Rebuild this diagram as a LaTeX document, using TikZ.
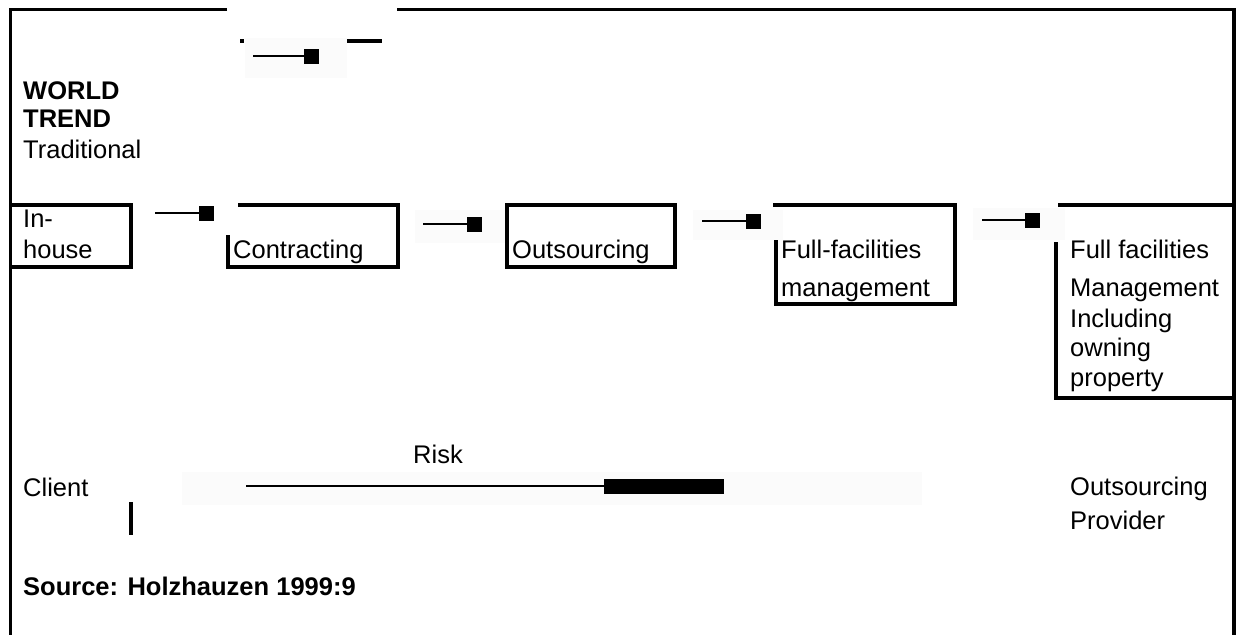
\documentclass[tikz,border=0pt]{standalone}
\usepackage{fontspec}
\setmainfont{Liberation Sans}
\usetikzlibrary{arrows.meta}
\begin{document}
\begin{tikzpicture}[x=1pt,y=-1pt]
\tikzset{
  frameline/.style={line width=3.8pt},
  boxline/.style={line width=3.8pt},
  conn/.style={line width=1.8pt, -{Square[length=15pt,width=15pt]}},
  riskconn/.style={line width=1.8pt, -{Square[length=120pt,width=15pt]}},
  lbl/.style={anchor=base west, inner sep=0pt, font=\fontsize{25.5}{30}\selectfont},
  blbl/.style={anchor=base west, inner sep=0pt, font=\fontsize{25.5}{30}\selectfont\bfseries},
  faint/.style={fill=black!1.5, draw=none}
}
\useasboundingbox (0,0) rectangle (1237,635);
\fill[white] (0,0) rectangle (1237,635);

% faint backgrounds
\fill[faint] (245,38) rectangle (347,78);
\fill[faint] (415,210) rectangle (505,243);
\fill[faint] (693,210) rectangle (783,240);
\fill[faint] (973,208) rectangle (1065,240);
\fill[faint] (182,472) rectangle (922,505);

% outer frame
\draw[frameline] (227,9.5) -- (10.5,9.5) -- (10.5,635);
\draw[frameline] (397,9.5) -- (1234,9.5) -- (1234,635);

% top fragments
\draw[boxline] (240,41) -- (244,41);
\draw[boxline] (347,41) -- (382,41);

% boxes
\draw[boxline] (10.5,205) -- (131,205) -- (131,267) -- (10.5,267);
\draw[boxline] (238,205) -- (398,205) -- (398,267) -- (228,267) -- (228,235);
\draw[boxline] (507,205) rectangle (675,267);
\draw[boxline] (773,205) -- (955,205) -- (955,304) -- (776,304) -- (776,240);
\draw[boxline] (1058,205) -- (1234,205);
\draw[boxline] (1056,242) -- (1056,398) -- (1234,398);

% small bar
\draw[boxline] (131,502) -- (131,535);

% arrow coordinates
\coordinate (t0) at (253,56);   \coordinate (t1) at (319,56);
\coordinate (a0) at (155,213);  \coordinate (a1) at (214,213);
\coordinate (b0) at (423,224);  \coordinate (b1) at (482,224);
\coordinate (c0) at (702,221);  \coordinate (c1) at (761,221);
\coordinate (d0) at (982,220);  \coordinate (d1) at (1040,220);
\coordinate (r0) at (246,486);  \coordinate (r1) at (724,486);

\draw[conn] (t0) -- (t1);
\draw[conn] (a0) -- (a1);
\draw[conn] (b0) -- (b1);
\draw[conn] (c0) -- (c1);
\draw[conn] (d0) -- (d1);
\draw[riskconn] (r0) -- (r1);

% texts
\node[blbl] (world) at (23,99) {WORLD};
\node[blbl] (trend) at (23,127) {TREND};
\node[lbl] (trad) at (23,158) {Traditional};

\node[lbl] (in1) at (23,227) {In-};
\node[lbl] (in2) at (23,258) {house};
\node[lbl] (contr) at (233,258) {Contracting};
\node[lbl] (outs) at (512,258) {Outsourcing};
\node[lbl] (ffm1) at (781,258) {Full-facilities};
\node[lbl] (ffm2) at (781,296) {management};
\node[lbl] (ff1) at (1070,258) {Full facilities};
\node[lbl] (ff2) at (1070,296) {Management};
\node[lbl] (ff3) at (1070,327) {Including};
\node[lbl] (ff4) at (1070,356) {owning};
\node[lbl] (ff5) at (1070,386) {property};

\node[lbl] (risk) at (413,463) {Risk};
\node[lbl] (client) at (23,496) {Client};
\node[lbl] (prov1) at (1070,495) {Outsourcing};
\node[lbl] (prov2) at (1070,529) {Provider};
\node[blbl] (source) at (23,595) {Source: Holzhauzen 1999:9};
\end{tikzpicture}
\end{document}
